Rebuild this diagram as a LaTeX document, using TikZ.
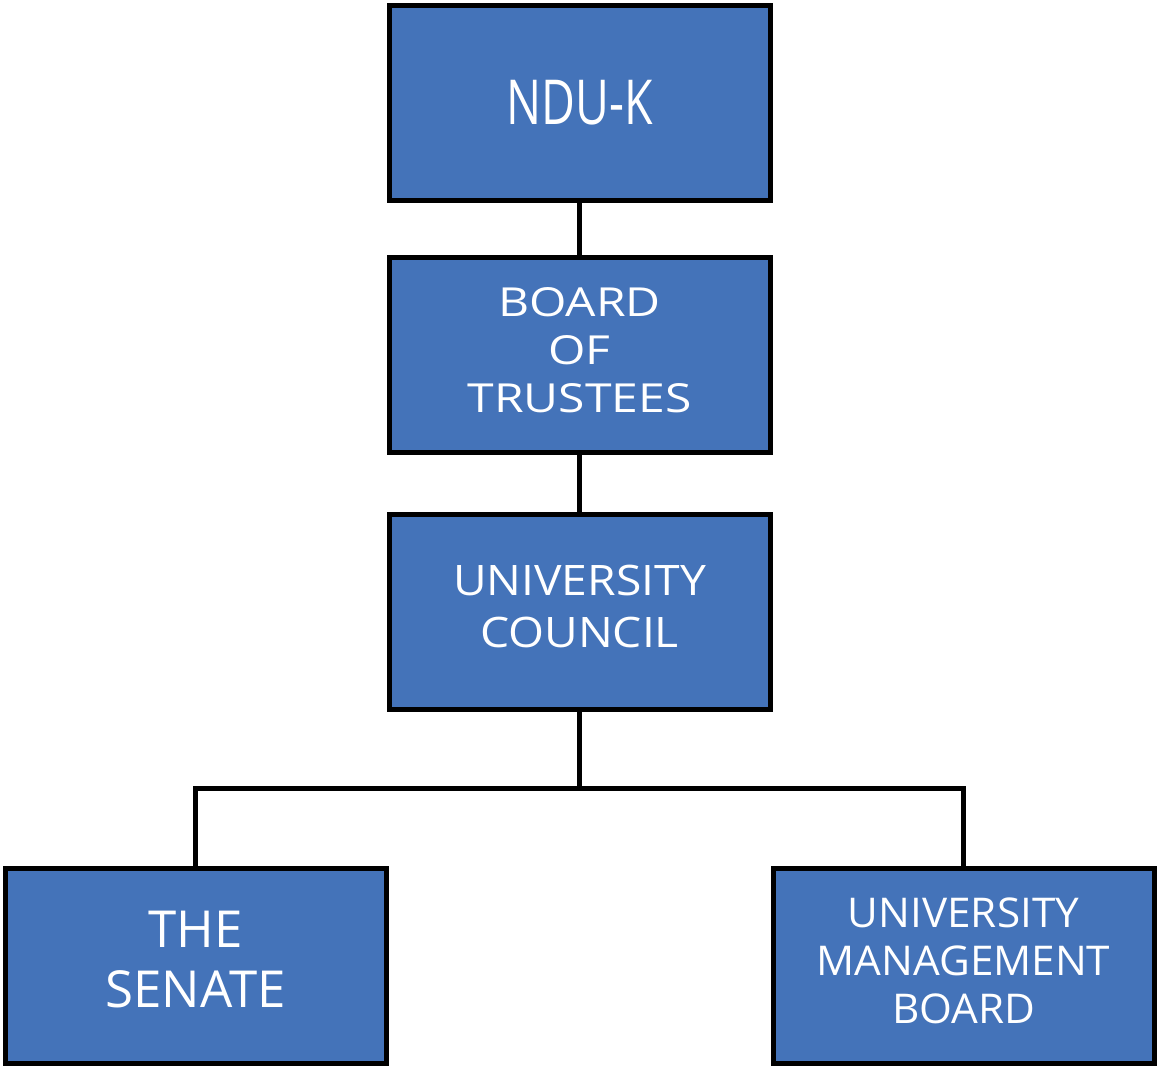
\documentclass[tikz,border=0pt]{standalone}
\usepackage{fontspec}
\setmainfont{Open Sans}
\definecolor{boxblue}{HTML}{4473B9}
\begin{document}
\begin{tikzpicture}[x=1pt,y=-1pt,
  box/.style={draw=black,line width=5pt,fill=boxblue,text=white,minimum width=381pt,minimum height=195pt,align=center,inner sep=0pt},
  conn/.style={line width=5pt}]
\useasboundingbox (0,0) rectangle (1159,1069);
\node[box] (ndu) at (579.5,102.5) {\scalebox{0.75}[1]{\fontsize{62}{62}\selectfont NDU-K}};
\node[box] (bot) at (579.5,354.5) {\scalebox{1.2}[1]{\fontsize{40}{48}\selectfont\begin{tabular}{@{}c@{}}BOARD\\OF\\TRUSTEES\end{tabular}}};
\node[box] (uc) at (579.5,611.5) {\scalebox{1.1}[1]{\fontsize{42}{52}\selectfont\begin{tabular}{@{}c@{}}UNIVERSITY\\COUNCIL\end{tabular}}};
\node[box] (sen) at (195.5,965.5) {\fontsize{51}{60}\selectfont\begin{tabular}{@{}c@{}}THE\\SENATE\end{tabular}};
\node[box] (umb) at (963.5,965.5) {\scalebox{1.03}[1]{\fontsize{41}{48}\selectfont\begin{tabular}{@{}c@{}}UNIVERSITY\\MANAGEMENT\\BOARD\end{tabular}}};
\coordinate (j) at (579.5,788);
\draw[conn] (ndu) -- (bot);
\draw[conn] (bot) -- (uc);
\draw[conn] (uc) -- (j);
\draw[conn] (sen.north) -- (sen.north |- j) -- (umb.north |- j) -- (umb.north);
\end{tikzpicture}
\end{document}
